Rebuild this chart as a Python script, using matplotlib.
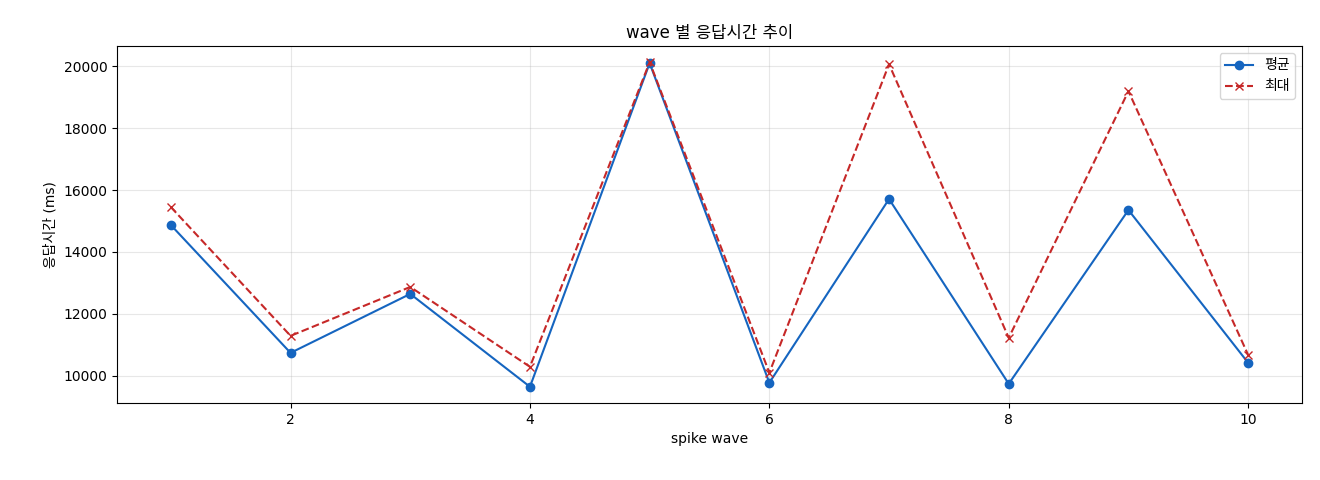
import matplotlib
matplotlib.use("Agg")
import matplotlib.pyplot as plt

plt.rcParams['font.family'] = ['DejaVu Sans', 'Noto Sans CJK KR']

waves = [1, 2, 3, 4, 5, 6, 7, 8, 9, 10]
avg_ms = [14870, 10740, 12645, 9645, 20100, 9775, 15710, 9740, 15355, 10420]
max_ms = [15450, 11290, 12870, 10290, 20130, 10100, 20065, 11225, 19195, 10675]

fig = plt.figure(figsize=(13.2, 4.8), dpi=100)
ax = fig.add_axes([117/1320, 77/480, 1185/1320, 357/480])
ax.plot(waves, avg_ms, marker='o', color='#1565c0', label='평균', linewidth=1.5, markersize=6)
ax.plot(waves, max_ms, marker='x', linestyle='--', color='#c62828', label='최대', linewidth=1.5, markersize=6)
ax.set_title('wave 별 응답시간 추이', fontsize=12)
ax.set_xlabel('spike wave', fontsize=10)
ax.set_ylabel('응답시간 (ms)', fontsize=10)
ax.grid(True, alpha=0.3)
ax.legend(loc='upper right', fontsize=10)
ax.tick_params(labelsize=10)
fig.savefig('out.png', dpi=100)
